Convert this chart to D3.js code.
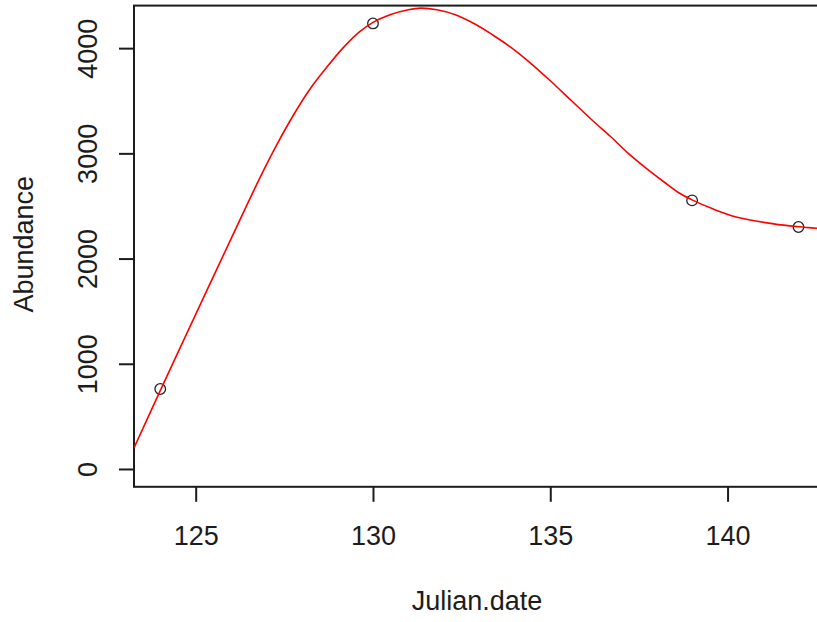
<!DOCTYPE html>
<html>
<head>
<meta charset="utf-8">
<script src="https://cdn.jsdelivr.net/npm/d3@7"></script>
<style>
  html, body { margin: 0; padding: 0; background: #ffffff; }
  svg { display: block; }
  text { font-family: "Liberation Sans", Arial, sans-serif; }
</style>
</head>
<body>
<svg id="chart" width="817" height="622"></svg>
<script>
// Observed abundance by Julian date
const julianDate = [124, 130, 139, 142];
const abundance = [760, 4235, 2553, 2300];

// Fitted smooth curve (red line)
const fitDate = [123.26, 124.0, 125.0, 126.0, 126.8, 127.3, 127.75, 128.2, 128.7, 129.15,
                 129.6, 130.0, 130.5, 131.0, 131.35, 131.8, 132.3, 132.9, 133.4, 133.9,
                 134.4, 135.0, 135.6, 136.2, 136.7, 137.2, 137.7, 138.2, 138.6, 139.0,
                 139.6, 140.3, 141.3, 142.0, 142.72];
const fitAbundance = [200, 745, 1470, 2190, 2760, 3090, 3360, 3600, 3820, 4000,
                      4150, 4245, 4320, 4365, 4380, 4365, 4320, 4225, 4120, 4005,
                      3870, 3690, 3500, 3310, 3160, 3000, 2860, 2730, 2630, 2558,
                      2470, 2390, 2330, 2303, 2283];

// Axis ticks
const xTicks = [125, 130, 135, 140];
const yTicks = [0, 1000, 2000, 3000, 4000];

const svg = d3.select("#chart");
const plotLeft = 134, plotRight = 824, plotTop = 5.6, plotBottom = 486.8;

const x = d3.scaleLinear().domain([123.26, 142.72]).range([plotLeft, plotRight]);
const y = d3.scaleLinear().domain([-169.4, 4404.4]).range([plotBottom, plotTop]);

const ink = "#1c1c1c";
const fontSize = 27;

// Bottom axis
const gx = svg.append("g")
  .attr("transform", `translate(0,${plotBottom})`)
  .call(d3.axisBottom(x).tickValues(xTicks).tickSize(15).tickFormat(d3.format("d")));
gx.select(".domain").remove();
gx.selectAll(".tick line").attr("stroke", ink).attr("stroke-width", 2);
gx.selectAll(".tick text")
  .attr("y", 58).attr("dy", 0)
  .attr("fill", ink)
  .style("font-size", fontSize + "px")
  .style("font-family", "'Liberation Sans', Arial, sans-serif");

// Left axis with labels turned parallel to the axis
const gy = svg.append("g")
  .attr("transform", `translate(${plotLeft},0)`)
  .call(d3.axisLeft(y).tickValues(yTicks).tickSize(15).tickFormat(d3.format("d")));
gy.select(".domain").remove();
gy.selectAll(".tick line").attr("stroke", ink).attr("stroke-width", 2);
gy.selectAll(".tick text")
  .attr("x", 0).attr("y", 0).attr("dy", 0)
  .attr("text-anchor", "middle")
  .attr("transform", "translate(-37,0) rotate(-90)")
  .attr("fill", ink)
  .style("font-size", fontSize + "px")
  .style("font-family", "'Liberation Sans', Arial, sans-serif");

// Plot frame
svg.append("rect")
  .attr("x", plotLeft).attr("y", plotTop)
  .attr("width", plotRight - plotLeft).attr("height", plotBottom - plotTop)
  .attr("fill", "none").attr("stroke", ink).attr("stroke-width", 2);

// Axis titles
svg.append("text")
  .attr("x", (plotLeft + plotRight) / 2 - 2).attr("y", 610)
  .attr("text-anchor", "middle")
  .attr("fill", ink)
  .style("font-size", fontSize + "px")
  .text("Julian.date");

svg.append("text")
  .attr("transform", `translate(33,${(plotTop + plotBottom) / 2 - 2}) rotate(-90)`)
  .attr("text-anchor", "middle")
  .attr("fill", ink)
  .style("font-size", fontSize + "px")
  .text("Abundance");

// Observations as open circles
const obs = julianDate.map((d, i) => ({ x: d, y: abundance[i] }));
svg.append("g").selectAll("circle")
  .data(obs)
  .join("circle")
  .attr("cx", d => x(d.x))
  .attr("cy", d => y(d.y))
  .attr("r", 5.3)
  .attr("fill", "none")
  .attr("stroke", "#222")
  .attr("stroke-width", 1.3);

// Fitted curve, clipped to the plot region
svg.append("clipPath").attr("id", "plotClip")
  .append("rect").attr("x", plotLeft).attr("y", plotTop)
  .attr("width", plotRight - plotLeft).attr("height", plotBottom - plotTop);

const fit = fitDate.map((d, i) => ({ x: d, y: fitAbundance[i] }));
svg.append("path")
  .datum(fit)
  .attr("clip-path", "url(#plotClip)")
  .attr("fill", "none")
  .attr("stroke", "#ff0000")
  .attr("stroke-width", 1.6)
  .attr("d", d3.line().x(d => x(d.x)).y(d => y(d.y)).curve(d3.curveCatmullRom.alpha(0.5)));
</script>
</body>
</html>
